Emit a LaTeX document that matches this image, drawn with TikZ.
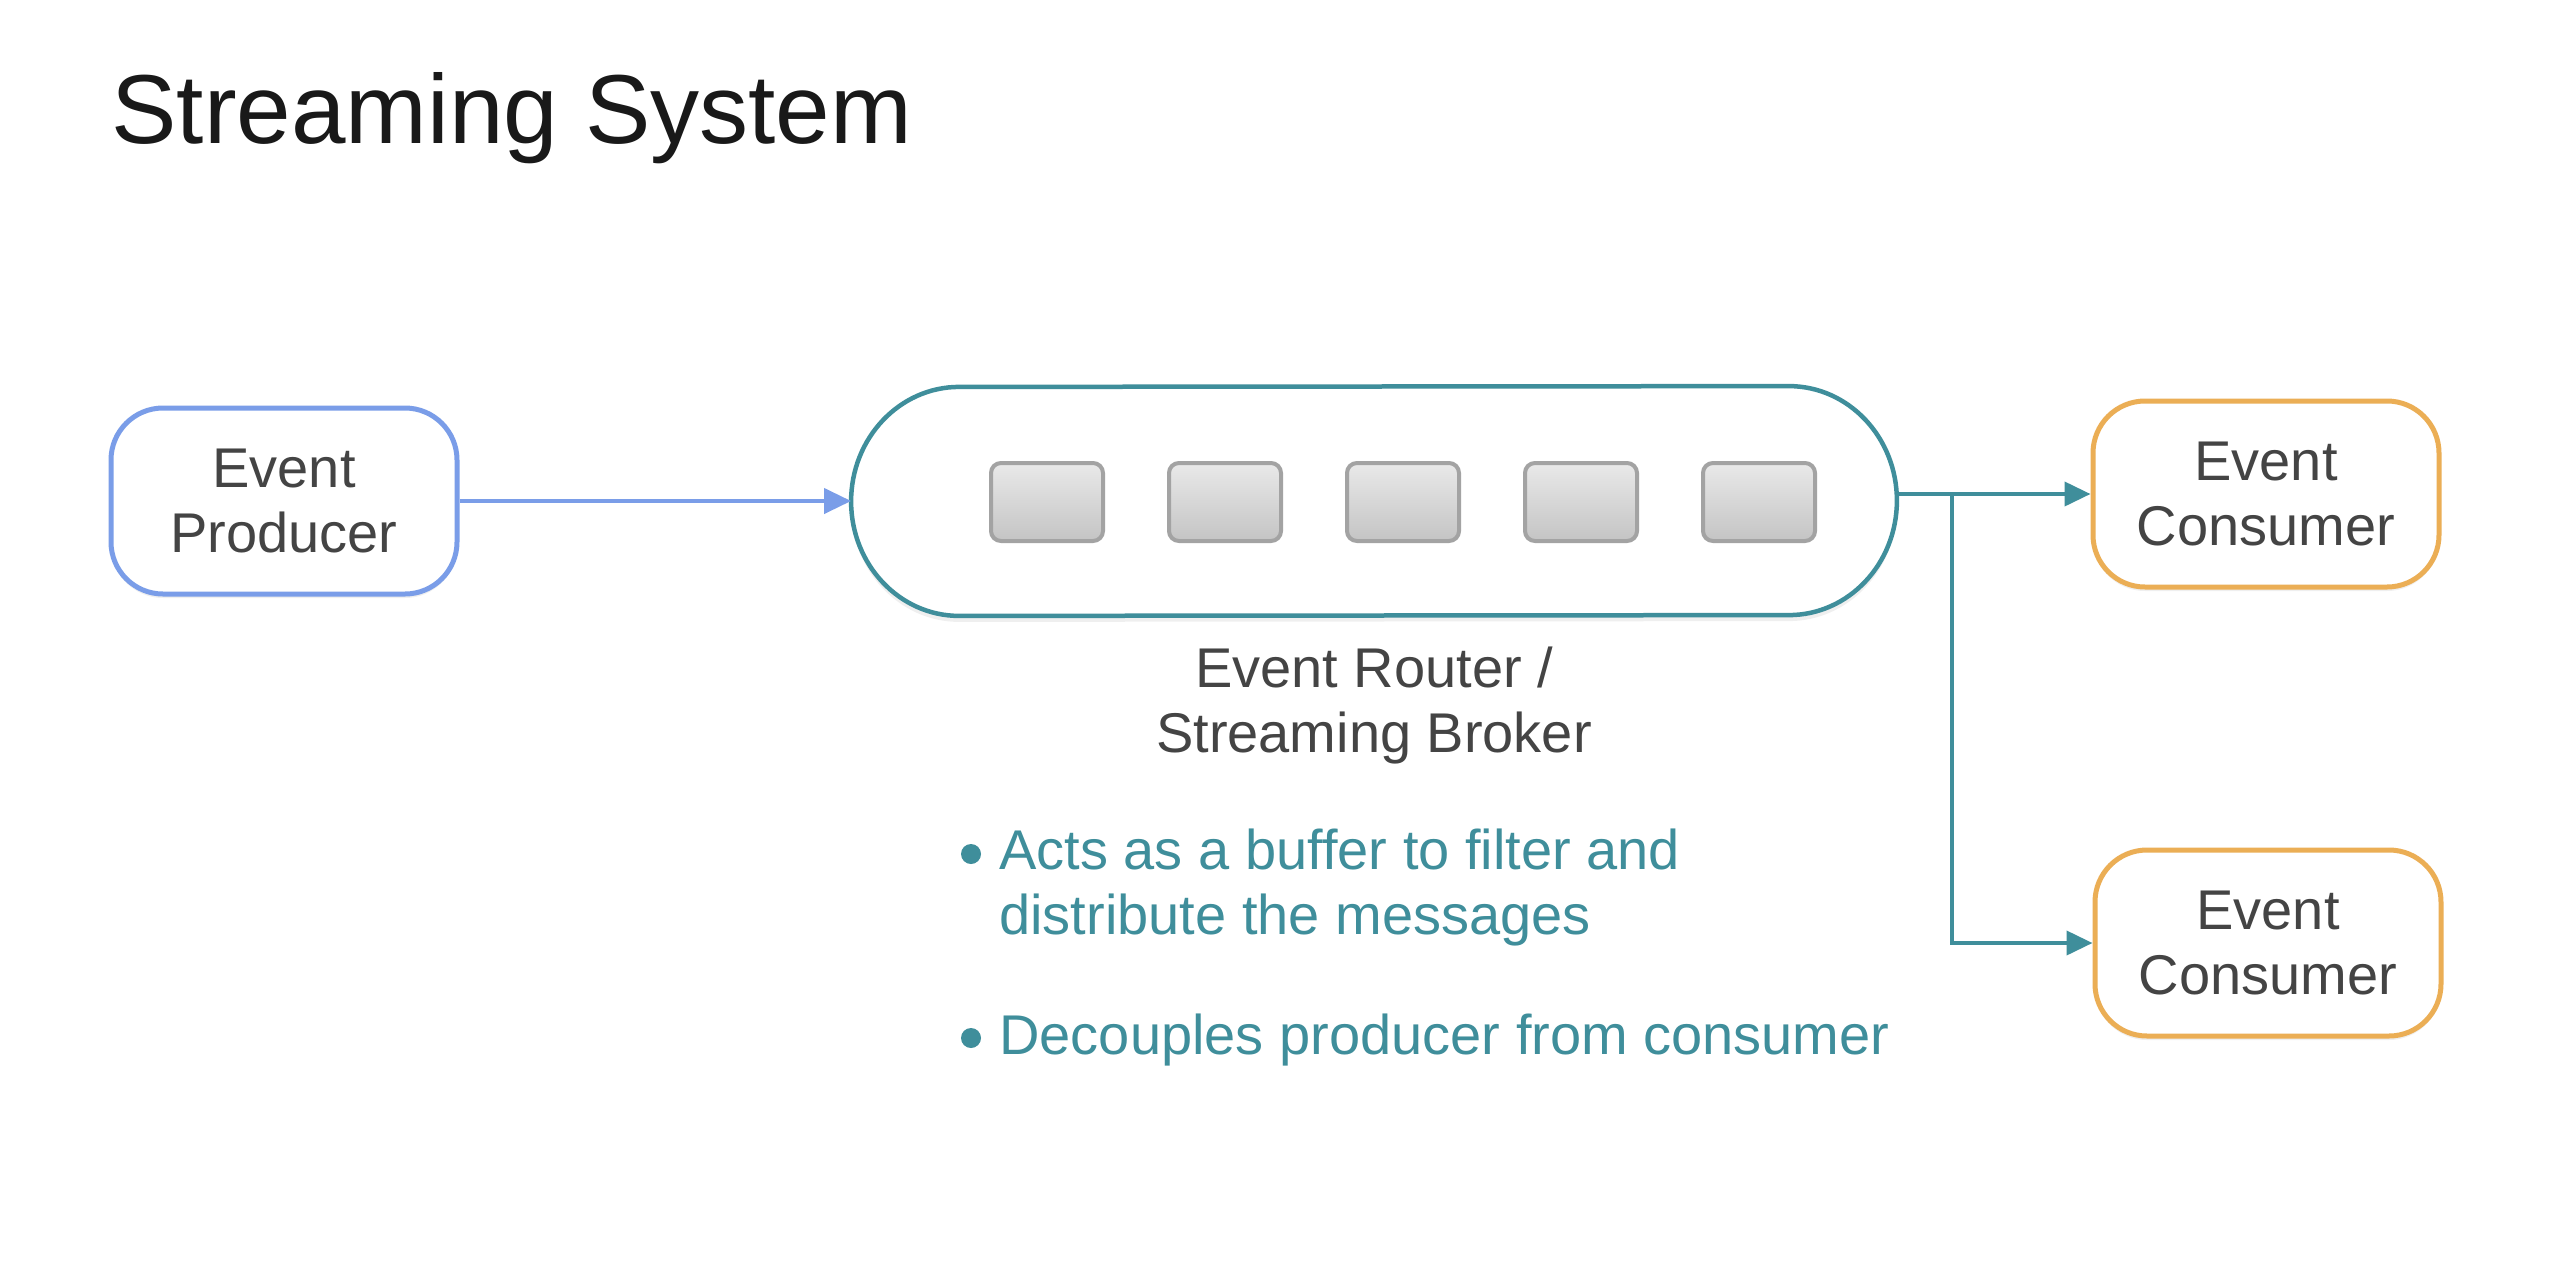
\documentclass[tikz,border=0pt]{standalone}
\usepackage{fontspec}
\setmainfont{Liberation Sans}
\usetikzlibrary{arrows.meta,shadows}
\definecolor{prodblue}{HTML}{7A9DE8}
\definecolor{brokerteal}{HTML}{3F8E9B}
\definecolor{consorange}{HTML}{EBAE55}
\definecolor{textgray}{HTML}{444444}
\definecolor{slottop}{HTML}{E9E9E9}
\definecolor{slotbot}{HTML}{C4C4C4}
\definecolor{slotedge}{HTML}{A3A3A3}

\begin{document}
\begin{tikzpicture}[x=0.5pt, y=-0.5pt,
    every node/.style={font=\fontsize{28}{32.5}\selectfont, text=textgray},
    endpoint/.style={rectangle, rounded corners=26pt, line width=2.5pt, fill=white, minimum width=173pt, minimum height=93pt, align=center, drop shadow={shadow xshift=0pt, shadow yshift=-2pt, opacity=0.12}},
    slot/.style={rectangle, rounded corners=5pt, draw=slotedge, line width=2pt, top color=slottop, bottom color=slotbot, minimum width=56pt, minimum height=39pt},
    flow/.style={line width=2pt, draw=brokerteal, -{Triangle[length=13pt, width=12pt]}},
    bullet/.style={circle, fill=brokerteal, inner sep=0pt, minimum size=10pt},
    note/.style={anchor=west, align=left, inner sep=0pt, text=brokerteal}]
    \fill[white] (0,0) rectangle (2556,1270);
    \useasboundingbox (0,0) rectangle (2556,1270);

    \node[anchor=base west, inner sep=0pt, font=\fontsize{49}{58}\selectfont, text=black!90] (title) at (111,143) {Streaming System};

    % producer and broker
    \node[endpoint, draw=prodblue] (prod) at (284,501) {Event\\Producer};
    \node[minimum width=522.5pt, minimum height=114.5pt, inner sep=0pt] (broker) at (1374,501) {};
    \draw[brokerteal, line width=2.25pt, line join=round, fill=white, drop shadow={shadow xshift=0pt, shadow yshift=-3pt, opacity=0.12}]
        ([xshift=-54pt]broker.north east)
        arc[start angle=90, end angle=-90, x radius=54pt, y radius=57.25pt]
        -- ([xshift=54pt]broker.south west)
        arc[start angle=270, end angle=90, x radius=54pt, y radius=57.25pt] -- cycle;
    \foreach \i [count=\n] in {0,...,4}
        \node[slot] (slot\n) at ({1047+178*\i},502) {};
    \node[align=center] (brokerlabel) at (1374,706) {Event Router /\\Streaming Broker};

    % notes
    \node[note] (note1) at (999,888) {Acts as a buffer to filter and\\distribute the messages};
    \node[note] (note2) at (999,1040) {Decouples producer from consumer};
    \node[bullet] (dot1) at (971,854) {};
    \node[bullet] (dot2) at (971,1038) {};

    % consumers
    \node[endpoint, draw=consorange] (cons1) at (2266,494) {Event\\Consumer};
    \node[endpoint, draw=consorange] (cons2) at (2268,943) {Event\\Consumer};

    \draw[line width=2pt, prodblue, -{Triangle[length=13.5pt, width=12.5pt]}] (prod) -- (broker);
    \coordinate (split) at ([xshift=27.5pt]broker.east |- cons1.west);
    \draw[flow] (broker.east |- cons1.west) -- (cons1.west);
    \draw[flow] (split) |- (cons2.west);
\end{tikzpicture}
\end{document}
